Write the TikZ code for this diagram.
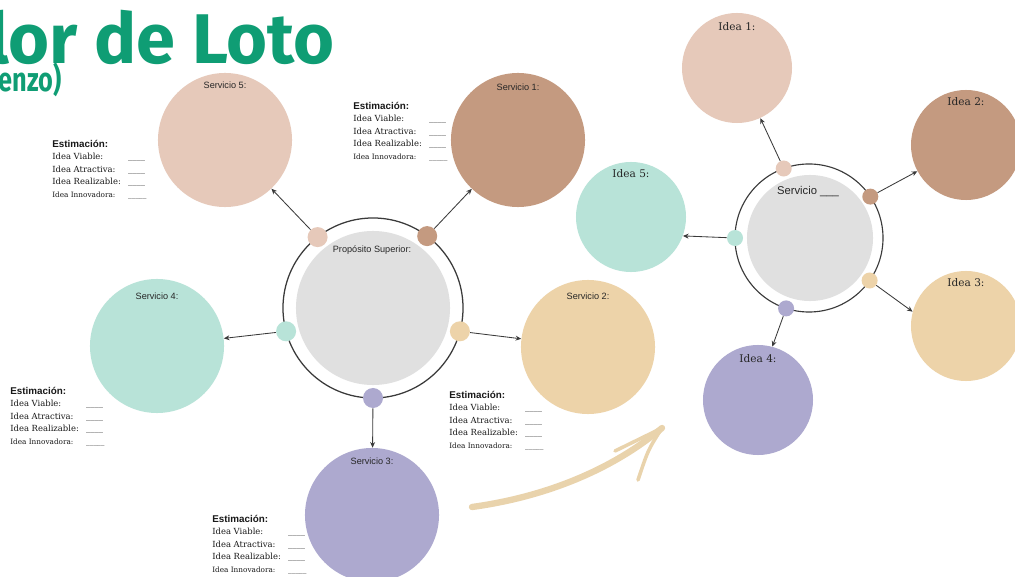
\documentclass[tikz,border=0pt]{standalone}
\usepackage{fontspec}
\setmainfont{Liberation Sans}
\newfontfamily\ideafont{DejaVu Serif}
\newfontfamily\titlefont{Fira Sans}
\usetikzlibrary{arrows.meta,positioning}

\definecolor{rosa}{HTML}{E6C9BA}
\definecolor{cafe}{HTML}{C49A80}
\definecolor{menta}{HTML}{B8E3D8}
\definecolor{arena}{HTML}{EDD3A9}
\definecolor{lila}{HTML}{ADA9CF}
\definecolor{gris}{HTML}{E0E0E0}
\definecolor{verde}{HTML}{0F9D74}
\definecolor{trazo}{HTML}{3A3A3A}
\definecolor{pincel}{HTML}{E9D3AC}

\tikzset{
  servicio/.style={circle, minimum size=3.35cm, inner sep=0pt},
  idea/.style={circle, minimum size=2.75cm, inner sep=0pt},
  punto/.style={circle, minimum size=0.5cm, inner sep=0pt},
  puntito/.style={circle, minimum size=0.4cm, inner sep=0pt},
  flecha/.style={draw=trazo, line width=0.6pt, -{Stealth[length=4pt,width=3.5pt]}},
  rotulo/.style={font=\fontsize{6.5}{7}\selectfont, text=black!85, inner sep=0pt},
  rotuloidea/.style={font=\ideafont\fontsize{7.5}{8}\selectfont, text=black!85, inner sep=0pt},
  bloque/.style={anchor=north west, inner sep=0pt, text=black!90},
}

\newcommand{\blanco}{\_\_\_\_}
\newcommand{\estimacion}{%
  {\ideafont\fontsize{6}{8.9}\selectfont
  \begin{tabular}{@{}p{54pt}@{}l@{}}
    \multicolumn{2}{@{}l@{}}{\rmfamily\bfseries\fontsize{7}{8.9}\selectfont Estimación:}\\
    Idea Viable: & \blanco\\
    Idea Atractiva: & \blanco\\
    Idea Realizable: & \blanco\\
    {\fontsize{5.2}{8.9}\selectfont Idea Innovadora:} & {\fontsize{5.2}{8.9}\selectfont\blanco\_}
  \end{tabular}}}

\begin{document}
\begin{tikzpicture}[x=0.025cm, y=0.025cm]
  \useasboundingbox (0,0) rectangle (1015,-577);
  \fill[white] (0,0) rectangle (1015,-577);

  \node[font=\titlefont\bfseries\fontsize{50}{50}\selectfont, text=verde, anchor=base east, inner sep=0pt] (titulo) at (335,-64) {lor de Loto};
  \node[font=\titlefont\bfseries\fontsize{24}{24}\selectfont, text=verde, anchor=base east, inner sep=0pt, xscale=0.75, transform shape] (subtitulo) at (62,-92) {enzo)};

  % flor izquierda
  \node[circle, draw=trazo, line width=0.9pt, minimum size=4.5cm, inner sep=0pt] (anillo) at (373,-308) {};
  \node[circle, fill=gris, minimum size=3.85cm, inner sep=0pt] (proposito) at (373,-308) {};
  \node[rotulo] at (372,-250) {Propósito Superior:};

  \node[servicio, fill=rosa] (s5) at (225,-140) {};
  \node[servicio, fill=cafe] (s1) at (518,-140) {};
  \node[servicio, fill=menta] (s4) at (157,-346) {};
  \node[servicio, fill=arena] (s2) at (588,-347) {};
  \node[servicio, fill=lila] (s3) at (372,-515) {};
  \node[rotulo, below=0.22cm of s5.north] {Servicio 5:};
  \node[rotulo, below=0.27cm of s1.north] {Servicio 1:};
  \node[rotulo, below=0.34cm of s4.north] {Servicio 4:};
  \node[rotulo, below=0.32cm of s2.north] {Servicio 2:};
  \node[rotulo, below=0.24cm of s3.north] {Servicio 3:};

  \node[punto, fill=rosa] (p5) at (317.6,-237.1) {};
  \node[punto, fill=cafe] (p1) at (427.2,-236.1) {};
  \node[punto, fill=menta] (p4) at (286.1,-331.3) {};
  \node[punto, fill=arena] (p2) at (459.9,-331.3) {};
  \node[punto, fill=lila] (p3) at (373,-398) {};

  \draw[flecha] (p5) -- (s5);
  \draw[flecha] (p1) -- (s1);
  \draw[flecha] (p4) -- (s4);
  \draw[flecha] (p2) -- (s2);
  \draw[flecha] (p3) -- (s3);

  \node[bloque] (e5) at (52,-138) {\estimacion};
  \node[bloque] (e1) at (353,-100) {\estimacion};
  \node[bloque] (e4) at (10,-385) {\estimacion};
  \node[bloque] (e2) at (449,-389) {\estimacion};
  \node[bloque] (e3) at (212,-513) {\estimacion};

  % trazo de pincel
  \coordinate (inicio) at (472,-507);
  \coordinate (punta) at (662,-428);
  \draw[pincel, line width=4.5pt, line cap=round] (inicio) .. controls (545,-497) and (612,-470) .. (punta);
  \draw[pincel, line width=2.5pt, line cap=round] (punta) -- (615,-451);
  \draw[pincel, line width=2.5pt, line cap=round] (punta) .. controls (648,-450) .. (638,-480);

  % flor derecha
  \node[circle, draw=trazo, line width=0.8pt, minimum size=3.7cm, inner sep=0pt] (anillo2) at (809,-238) {};
  \node[circle, fill=gris, minimum size=3.15cm, inner sep=0pt] (servicio) at (810,-238) {};
  \node[rotulo, font=\fontsize{8}{9}\selectfont] at (808,-192) {Servicio \_\_\_};

  \node[idea, fill=rosa] (i1) at (737,-68) {};
  \node[idea, fill=cafe] (i2) at (966,-145) {};
  \node[idea, fill=menta] (i5) at (631,-217) {};
  \node[idea, fill=arena] (i3) at (966,-326) {};
  \node[idea, fill=lila] (i4) at (758,-400) {};
  \node[rotuloidea, below=0.25cm of i1.north] {Idea 1:};
  \node[rotuloidea, below=0.18cm of i2.north] {Idea 2:};
  \node[rotuloidea, below=0.18cm of i5.north] {Idea 5:};
  \node[rotuloidea, below=0.18cm of i3.north] {Idea 3:};
  \node[rotuloidea, below=0.23cm of i4.north] {Idea 4:};

  \node[puntito, fill=rosa] (q1) at (783.7,-168.5) {};
  \node[puntito, fill=cafe] (q2) at (870.3,-196.6) {};
  \node[puntito, fill=menta] (q5) at (735,-238) {};
  \node[puntito, fill=arena] (q3) at (869.6,-280.5) {};
  \node[puntito, fill=lila] (q4) at (786.1,-308.4) {};

  \draw[flecha] (q1) -- (i1);
  \draw[flecha] (q2) -- (i2);
  \draw[flecha] (q5) -- (i5.340);
  \draw[flecha] (q3) -- (i3.165);
  \draw[flecha] (q4) -- (i4.75);
\end{tikzpicture}
\end{document}
